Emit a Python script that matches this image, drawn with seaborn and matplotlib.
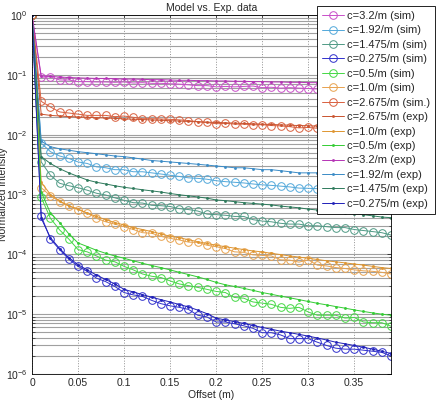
import matplotlib
matplotlib.use("Agg")
import matplotlib.pyplot as plt
from matplotlib.ticker import FuncFormatter, LogLocator, NullFormatter
import seaborn as sns
import pandas as pd

offset = [0.00, 0.01, 0.02, 0.03, 0.04, 0.05, 0.06, 0.07, 0.08, 0.09,
          0.10, 0.11, 0.12, 0.13, 0.14, 0.15, 0.16, 0.17, 0.18, 0.19,
          0.20, 0.21, 0.22, 0.23, 0.24, 0.25, 0.26, 0.27, 0.28, 0.29,
          0.30, 0.31, 0.32, 0.33, 0.34, 0.35, 0.36, 0.37, 0.38, 0.39]

# simulated curves (open circles)
sim_3_2 = [1.0, 0.091, 0.093, 0.082, 0.082, 0.077, 0.077, 0.076, 0.076, 0.075,
           0.076, 0.073, 0.074, 0.072, 0.072, 0.071, 0.070, 0.068, 0.066, 0.066,
           0.063, 0.064, 0.063, 0.064, 0.065, 0.061, 0.062, 0.060, 0.061, 0.060,
           0.059, 0.058, 0.059, 0.057, 0.057, 0.056, 0.056, 0.055, 0.055, 0.054]
sim_1_92 = [1.0, 0.0072, 0.0052, 0.0044, 0.0040, 0.0035, 0.0033, 0.0029, 0.0028, 0.0026,
            0.0026, 0.0024, 0.0024, 0.0023, 0.0022, 0.0021, 0.0020, 0.0019, 0.00186, 0.0018,
            0.0017, 0.00164, 0.00160, 0.00156, 0.00150, 0.00145, 0.00142, 0.00138, 0.00134, 0.00128,
            0.00127, 0.00125, 0.00124, 0.00122, 0.00121, 0.00119, 0.00118, 0.00117, 0.00115, 0.00114]
sim_1_475 = [1.0, 0.0035, 0.0021, 0.00154, 0.0014, 0.0013, 0.00118, 0.00105, 0.00098, 0.00088,
             0.00080, 0.00073, 0.00072, 0.00066, 0.00065, 0.00063, 0.00058, 0.00056, 0.00053, 0.00047,
             0.00046, 0.00045, 0.00043, 0.00043, 0.00038, 0.00036, 0.00035, 0.00033, 0.00032, 0.00032,
             0.00030, 0.00030, 0.00029, 0.00028, 0.00028, 0.00026, 0.00025, 0.00024, 0.00023, 0.00021]
sim_0_275 = [1.0, 4.4e-4, 1.8e-4, 1.2e-4, 8.3e-5, 6.3e-5, 5.2e-5, 4.0e-5, 3.5e-5, 2.9e-5,
             2.3e-5, 2.1e-5, 1.98e-5, 1.7e-5, 1.5e-5, 1.38e-5, 1.3e-5, 1.2e-5, 9.6e-6, 9.0e-6,
             7.4e-6, 7.4e-6, 6.9e-6, 6.4e-6, 5.8e-6, 4.9e-6, 4.9e-6, 4.5e-6, 3.9e-6, 3.9e-6,
             3.9e-6, 3.4e-6, 3.0e-6, 2.7e-6, 2.6e-6, 2.6e-6, 2.5e-6, 2.4e-6, 2.3e-6, 2.0e-6]
sim_0_5 = [1.0, 9.0e-4, 4.0e-4, 2.56e-4, 1.8e-4, 1.2e-4, 1.1e-4, 9.4e-5, 8.0e-5, 7.5e-5,
           6.3e-5, 5.5e-5, 4.7e-5, 4.3e-5, 4.1e-5, 3.6e-5, 3.2e-5, 3.0e-5, 2.8e-5, 2.6e-5,
           2.4e-5, 2.3e-5, 1.9e-5, 1.85e-5, 1.6e-5, 1.53e-5, 1.46e-5, 1.3e-5, 1.25e-5, 1.3e-5,
           1.09e-5, 9.6e-6, 9.6e-6, 9.6e-6, 8.6e-6, 8.8e-6, 7.4e-6, 7.2e-6, 7.2e-6, 6.3e-6]
sim_1_0 = [1.0, 1.3e-3, 9.5e-4, 7.6e-4, 6.4e-4, 5.6e-4, 4.9e-4, 4.0e-4, 3.5e-4, 3.2e-4,
           2.9e-4, 2.6e-4, 2.3e-4, 2.25e-4, 2.0e-4, 1.85e-4, 1.74e-4, 1.6e-4, 1.58e-4, 1.42e-4,
           1.34e-4, 1.25e-4, 1.1e-4, 1.08e-4, 9.8e-5, 9.6e-5, 9.4e-5, 8.1e-5, 8.0e-5, 7.4e-5,
           8.1e-5, 6.6e-5, 6.4e-5, 6.0e-5, 5.8e-5, 5.5e-5, 5.3e-5, 5.2e-5, 5.0e-5, 4.7e-5]
sim_2_675 = [1.0, 0.036, 0.029, 0.024, 0.023, 0.022, 0.021, 0.021, 0.021, 0.020,
             0.0205, 0.0195, 0.0185, 0.0185, 0.0183, 0.0180, 0.0177, 0.0172, 0.0165, 0.0160,
             0.0152, 0.0155, 0.0150, 0.0150, 0.0146, 0.0147, 0.0142, 0.0140, 0.0136, 0.0130,
             0.0132, 0.0128, 0.0127, 0.0124, 0.0124, 0.0122, 0.0120, 0.0119, 0.0117, 0.0115]

# measured curves (dots)
exp_2_675 = [1.0, 0.022, 0.021, 0.0205, 0.020, 0.0198, 0.0195, 0.0192, 0.019, 0.0187,
             0.0184, 0.0181, 0.0179, 0.0176, 0.0174, 0.0171, 0.0169, 0.0166, 0.0164, 0.0162,
             0.0160, 0.0158, 0.0156, 0.0154, 0.0152, 0.0150, 0.0148, 0.0146, 0.0144, 0.0142,
             0.0141, 0.0139, 0.0137, 0.0135, 0.0134, 0.0132, 0.0131, 0.0129, 0.0128, 0.0126]
exp_1_0 = [1.0, 1.6e-3, 1.0e-3, 7.8e-4, 6.5e-4, 5.7e-4, 4.9e-4, 4.3e-4, 3.8e-4, 3.4e-4,
           3.1e-4, 2.8e-4, 2.6e-4, 2.4e-4, 2.2e-4, 2.0e-4, 1.9e-4, 1.75e-4, 1.63e-4, 1.52e-4,
           1.42e-4, 1.34e-4, 1.27e-4, 1.2e-4, 1.14e-4, 1.1e-4, 1.04e-4, 9.9e-5, 9.4e-5, 9.0e-5,
           8.6e-5, 8.2e-5, 7.8e-5, 7.5e-5, 7.2e-5, 6.9e-5, 6.6e-5, 6.3e-5, 6.0e-5, 5.8e-5]
exp_0_5 = [1.0, 1.1e-3, 4.9e-4, 3.4e-4, 2.2e-4, 1.55e-4, 1.35e-4, 1.17e-4, 1.04e-4, 9.4e-5,
           8.6e-5, 7.8e-5, 7.1e-5, 6.5e-5, 6.0e-5, 5.5e-5, 5.0e-5, 4.6e-5, 4.2e-5, 3.8e-5,
           3.4e-5, 3.1e-5, 2.9e-5, 2.7e-5, 2.5e-5, 2.3e-5, 2.15e-5, 2.0e-5, 1.88e-5, 1.75e-5,
           1.63e-5, 1.52e-5, 1.43e-5, 1.34e-5, 1.26e-5, 1.18e-5, 1.11e-5, 1.05e-5, 1.0e-5, 9.6e-6]
exp_3_2 = [1.0, 0.096, 0.094, 0.092, 0.090, 0.089, 0.088, 0.087, 0.087, 0.086,
           0.085, 0.085, 0.084, 0.083, 0.083, 0.082, 0.081, 0.081, 0.080, 0.080,
           0.079, 0.079, 0.078, 0.078, 0.077, 0.077, 0.076, 0.076, 0.075, 0.075,
           0.074, 0.074, 0.073, 0.073, 0.073, 0.072, 0.072, 0.071, 0.071, 0.070]
exp_1_92 = [1.0, 0.0078, 0.0063, 0.0058, 0.0055, 0.0052, 0.0050, 0.0048, 0.0046, 0.0044,
            0.0043, 0.0041, 0.0039, 0.0037, 0.0036, 0.0035, 0.0034, 0.0033, 0.0032, 0.0031,
            0.0030, 0.0029, 0.0028, 0.0028, 0.0027, 0.0026, 0.0026, 0.0025, 0.0024, 0.0023,
            0.0023, 0.0023, 0.0022, 0.0022, 0.0022, 0.0021, 0.0021, 0.0021, 0.0020, 0.0020]
exp_1_475 = [1.0, 0.0043, 0.0033, 0.0027, 0.0023, 0.0020, 0.00175, 0.0016, 0.0015, 0.0014,
             0.00132, 0.00126, 0.0012, 0.00115, 0.0011, 0.00104, 0.00099, 0.00095, 0.00091, 0.00087,
             0.00081, 0.00079, 0.00076, 0.00073, 0.00071, 0.00069, 0.00067, 0.00064, 0.00062, 0.00060,
             0.00057, 0.00055, 0.00053, 0.00051, 0.00049, 0.00047, 0.00046, 0.00044, 0.00042, 0.00041]
exp_0_275 = [1.0, 4.0e-4, 1.9e-4, 1.25e-4, 8.8e-5, 6.7e-5, 5.5e-5, 4.5e-5, 3.8e-5, 3.2e-5,
             2.6e-5, 2.35e-5, 2.12e-5, 1.92e-5, 1.75e-5, 1.6e-5, 1.45e-5, 1.32e-5, 1.17e-5, 1.02e-5,
             8.6e-6, 8.0e-6, 7.5e-6, 7.0e-6, 6.5e-6, 6.0e-6, 5.6e-6, 5.2e-6, 4.9e-6, 4.6e-6,
             4.3e-6, 4.0e-6, 3.7e-6, 3.4e-6, 3.2e-6, 3.0e-6, 2.8e-6, 2.6e-6, 2.4e-6, 2.2e-6]

sim_series = [
    ("c=3.2/m (sim)", sim_3_2, "#C94FC9"),
    ("c=1.92/m (sim)", sim_1_92, "#52A8DA"),
    ("c=1.475/m (sim)", sim_1_475, "#4F9A85"),
    ("c=0.275/m (sim)", sim_0_275, "#3030CC"),
    ("c=0.5/m (sim)", sim_0_5, "#45D845"),
    ("c=1.0/m (sim)", sim_1_0, "#E8A24E"),
    ("c=2.675/m (sim.)", sim_2_675, "#D9603F"),
]
exp_series = [
    ("c=2.675/m (exp)", exp_2_675, "#C9532F"),
    ("c=1.0/m (exp)", exp_1_0, "#DE9530"),
    ("c=0.5/m (exp)", exp_0_5, "#33CC33"),
    ("c=3.2/m (exp)", exp_3_2, "#B533B5"),
    ("c=1.92/m (exp)", exp_1_92, "#3A8BC6"),
    ("c=1.475/m (exp)", exp_1_475, "#2E7A5C"),
    ("c=0.275/m (exp)", exp_0_275, "#2020B8"),
]

sns.set_style("white")
plt.rcParams["font.family"] = ["Liberation Sans", "DejaVu Sans"]
plt.rcParams["mathtext.default"] = "regular"

fig = plt.figure(figsize=(4.36, 4.00), dpi=100)
ax = fig.add_axes([0.0734, 0.065, 0.8234, 0.8975])
ax.set_yscale("log")

for name, vals, col in sim_series:
    df = pd.DataFrame({"offset": offset, "intensity": vals})
    sns.lineplot(data=df, x="offset", y="intensity", ax=ax, color=col, lw=0.7,
                 marker="o", markersize=5.5, markerfacecolor="none",
                 markeredgecolor=col, markeredgewidth=0.7, label=name,
                 estimator=None)

for name, vals, col in exp_series:
    df = pd.DataFrame({"offset": offset, "intensity": vals})
    sns.lineplot(data=df, x="offset", y="intensity", ax=ax, color=col, lw=0.7,
                 marker=".", markersize=3, markerfacecolor=col,
                 markeredgecolor=col, markeredgewidth=0.5, label=name,
                 estimator=None)

ax.set_xlim(0, 0.39)
ax.set_ylim(1e-6, 1)
ax.set_xticks([0, 0.05, 0.1, 0.15, 0.2, 0.25, 0.3, 0.35])
ax.xaxis.set_major_formatter(FuncFormatter(lambda v, p: "%g" % v))
ax.yaxis.set_major_locator(LogLocator(base=10, numticks=10))
ax.yaxis.set_minor_locator(LogLocator(base=10, subs=range(2, 10), numticks=20))
ax.yaxis.set_minor_formatter(NullFormatter())

ax.grid(axis="x", which="major", ls=":", color="#909090", lw=0.7)
ax.grid(axis="y", which="both", ls="-", color="#A0A0A0", lw=0.8)
ax.set_axisbelow(True)

ax.tick_params(axis="both", which="major", direction="in", length=3,
               top=True, right=True, labelsize=7.5, width=0.6, pad=3)
ax.tick_params(axis="y", which="minor", direction="in", length=1.8,
               left=True, right=True, width=0.5)
for s in ax.spines.values():
    s.set_color("black")
    s.set_linewidth(0.6)

ax.set_title("Model vs. Exp. data", fontsize=7.5, pad=3)
ax.set_xlabel("Offset (m)", fontsize=7.5, labelpad=1)
ax.set_ylabel("Normalized intensity", fontsize=7.5)
ax.yaxis.set_label_coords(-0.067, 0.5)

leg = ax.legend(loc="upper right", bbox_to_anchor=(435 / 436, 394 / 400),
                bbox_transform=fig.transFigure, fontsize=8, frameon=True,
                fancybox=False, framealpha=1, edgecolor="black",
                handlelength=1.9, handletextpad=0.3, labelspacing=0.4,
                borderpad=0.45, borderaxespad=0)
leg.get_frame().set_linewidth(0.6)

fig.savefig("out.png", dpi=100)
